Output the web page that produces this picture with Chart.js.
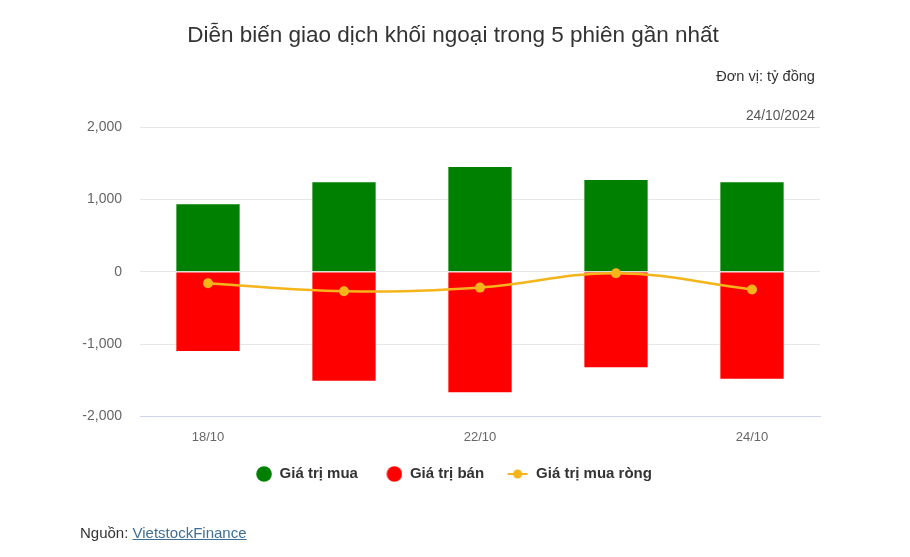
<!DOCTYPE html>
<html>
<head>
<meta charset="utf-8">
<script src="https://cdn.jsdelivr.net/npm/chart.js@4.4.1/dist/chart.umd.min.js"></script>
<style>
  html, body { margin: 0; padding: 0; background: #fff; }
  body { width: 910px; height: 557px; position: relative; overflow: hidden; font-family: 'Liberation Sans', Arial, sans-serif; }
  #wrap { position: absolute; left: 0; top: 0; width: 910px; height: 557px; }
  .txt { position: absolute; white-space: nowrap; }
  #title { left: 0; width: 906px; top: 22px; text-align: center; font-size: 22.5px; color: #333; }
  #unit { right: 95px; top: 68px; font-size: 14.6px; color: #333; }
  #date { right: 95px; top: 108px; font-size: 13.8px; color: #555; }
  #src { left: 80px; top: 524px; font-size: 15px; color: #333; }
  #src a { color: #3f6f95; text-decoration: underline; }
</style>
</head>
<body>
<div id="wrap"><canvas id="myChart"></canvas></div>
<div class="txt" id="title">Diễn biến giao dịch khối ngoại trong 5 phiên gần nhất</div>
<div class="txt" id="unit">Đơn vị: tỷ đồng</div>
<div class="txt" id="date">24/10/2024</div>
<div class="txt" id="src">Nguồn: <a href="#">VietstockFinance</a></div>
<script>
const labels = ['18/10', '21/10', '22/10', '23/10', '24/10'];
const buyValues = [945, 1250, 1460, 1282, 1250];
const sellValues = [-1110, -1522, -1680, -1334, -1492];
const netValues = [-160, -270, -220, -22, -245];
const yTicks = [-2000, -1000, 0, 1000, 2000];

const GREEN = '#008000';
const RED = '#ff0000';
const ORANGE = '#f4b41a';
const FONT = "'Liberation Sans', Arial, sans-serif";
const ICON_W = 28;

// legend markers, drawn flush right so the gap to the text stays small
function dotIcon(color) {
  const c = document.createElement('canvas');
  c.width = ICON_W; c.height = 16;
  const g = c.getContext('2d');
  g.fillStyle = color;
  g.beginPath(); g.arc(ICON_W - 8, 8, 7.8, 0, Math.PI * 2); g.fill();
  return c;
}
function lineIcon(color) {
  const c = document.createElement('canvas');
  c.width = ICON_W; c.height = 12;
  const g = c.getContext('2d');
  g.strokeStyle = color; g.lineWidth = 2;
  g.beginPath(); g.moveTo(ICON_W - 21, 6); g.lineTo(ICON_W - 1, 6); g.stroke();
  g.fillStyle = color;
  g.beginPath(); g.arc(ICON_W - 11, 6, 4.5, 0, Math.PI * 2); g.fill();
  return c;
}
const legendIcons = [dotIcon(GREEN), dotIcon(RED), lineIcon(ORANGE)];

const ctx = document.getElementById('myChart');
new Chart(ctx, {
  data: {
    labels: labels,
    datasets: [
      {
        type: 'line',
        label: 'Giá trị mua ròng',
        data: netValues,
        borderColor: ORANGE,
        backgroundColor: ORANGE,
        borderWidth: 2.5,
        pointRadius: 5,
        pointBorderWidth: 0,
        tension: 0.4,
        order: 0
      },
      {
        type: 'bar',
        label: 'Giá trị mua',
        data: buyValues,
        backgroundColor: GREEN,
        borderColor: '#ffffff',
        borderWidth: 1,
        grouped: false,
        categoryPercentage: 1,
        barPercentage: 0.48,
        order: 1
      },
      {
        type: 'bar',
        label: 'Giá trị bán',
        data: sellValues,
        backgroundColor: RED,
        borderColor: '#ffffff',
        borderWidth: 1,
        grouped: false,
        categoryPercentage: 1,
        barPercentage: 0.48,
        order: 1
      }
    ]
  },
  options: {
    responsive: true,
    maintainAspectRatio: false,
    animation: false,
    layout: { padding: { top: 127, right: 14, bottom: 65.5, left: 0 } },
    scales: {
      x: {
        grid: { display: false },
        border: { color: '#ccd6eb', width: 1 },
        ticks: {
          color: '#666',
          font: { family: FONT, size: 13 },
          padding: 5,
          autoSkip: false,
          maxRotation: 0,
          callback: function(v, i) { return i % 2 === 0 ? labels[i] : ''; }
        }
      },
      y: {
        min: -2000,
        max: 2000,
        afterFit: function(s) { s.width = 140; },
        afterBuildTicks: function(s) { s.ticks = yTicks.map(v => ({ value: v })); },
        grid: {
          color: function(c) { return c.tick && c.tick.value === -2000 ? '#ccd6eb' : '#e6e6e6'; },
          drawTicks: false
        },
        border: { display: false },
        ticks: {
          color: '#666',
          padding: 18,
          font: { family: FONT, size: 14 },
          callback: function(v) { return v.toLocaleString('en-US'); }
        }
      },
      // empty right-hand margin so the legend centres like the original
      yRight: {
        position: 'right',
        afterFit: function(s) { s.width = 76; },
        grid: { display: false },
        border: { display: false },
        ticks: { display: false }
      }
    },
    plugins: {
      tooltip: { enabled: false },
      legend: {
        position: 'bottom',
        labels: {
          usePointStyle: true,
          pointStyleWidth: ICON_W,
          boxHeight: 14,
          padding: 16.5,
          color: '#333',
          font: { family: FONT, size: 15, weight: 'bold' },
          generateLabels: function(chart) {
            const items = Chart.defaults.plugins.legend.labels.generateLabels(chart);
            const order = [1, 2, 0];
            return order.map(function(di, k) {
              const it = items.find(x => x.datasetIndex === di);
              it.pointStyle = legendIcons[k];
              return it;
            });
          }
        }
      }
    }
  }
});
</script>
</body>
</html>
